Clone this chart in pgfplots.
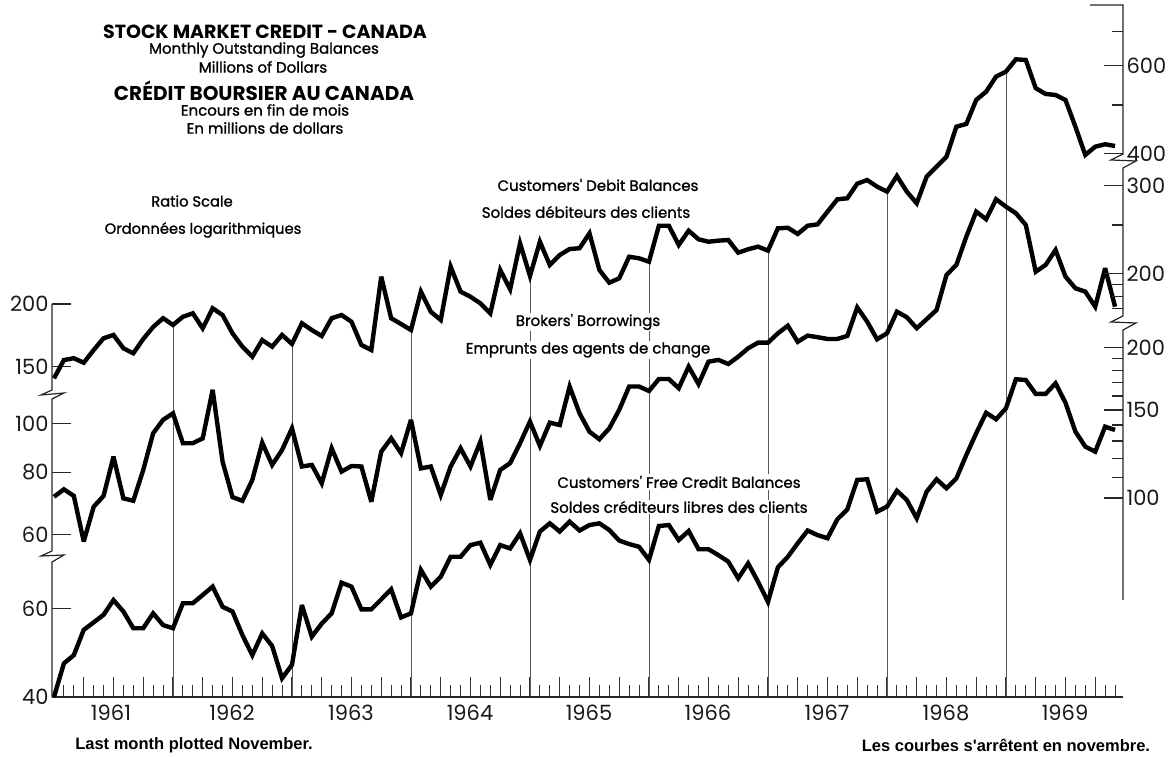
\documentclass[border=0pt]{standalone}
\usepackage{fontspec}
\setmainfont{Poppins}
\newfontfamily\medfont{Poppins}[FakeBold=1.2]
\newfontfamily\helv{Liberation Sans}
\usepackage{pgfplots}
\usepackage{pgfplotstable}
\pgfplotsset{compat=1.18}

\pgfplotsset{
  ccone/.style={scale only axis, width=1071pt, height=692pt, at={(52pt,59pt)},
    anchor=south west, xmin=-0.2, xmax=107.8, clip=false, ymin=32.74, ymax=792.6},
  cctwo/.style={scale only axis, width=1071pt, height=692pt, at={(52pt,59pt)},
    anchor=south west, xmin=-0.2, xmax=107.8, clip=false, ymin=28.44, ymax=688.5},
  ccthree/.style={scale only axis, width=1071pt, height=692pt, at={(52pt,59pt)},
    anchor=south west, xmin=-0.2, xmax=107.8, clip=false, ymin=40, ymax=968.4},
  cccurve/.style={black, line width=4.4pt, line join=miter, miter limit=4, mark=none},
  cclt/.style={axis x line=none, y axis line style={draw=none}, tick align=inside,
    major tick length=19pt, minor tick length=11pt, minor y tick num=0,
    tick style={black!85, line width=1.1pt},
    yticklabel style={font=\fontsize{21}{21}\selectfont, text=black!90},
    axis y line*=left},
  ccrt/.style={axis x line=none, y axis line style={draw=none}, tick align=inside,
    major tick length=19pt, minor tick length=11pt, minor y tick num=0,
    tick style={black!85, line width=1.1pt},
    yticklabel style={font=\fontsize{21}{21}\selectfont, text=black!90},
    axis y line*=right},
}

% Customers' Debit Balances (Dec 1960 = 0 ... Nov 1969 = 107)
\pgfplotstableread{
k v
0 142.0
1 154.5
2 155.8
3 152.6
4 161.8
5 170.8
6 173.4
7 163.1
8 159.4
9 170.2
10 179.9
11 187.3
12 181.6
13 188.6
14 191.6
15 178.8
16 196.1
17 190.1
18 174.7
19 164.3
20 156.9
21 169.4
22 164.3
23 173.4
24 166.4
25 183.0
26 177.4
27 172.6
28 187.3
29 190.1
30 184.3
31 165.6
32 161.8
33 226.8
34 187.3
35 182.4
36 177.4
37 211.7
38 193.0
39 185.8
40 237.5
41 211.7
42 206.8
43 200.6
44 191.6
45 233.9
46 214.0
47 264.5
48 227.5
49 266.4
50 239.3
51 250.6
52 257.6
53 258.5
54 276.9
55 233.9
56 220.6
57 225.1
58 248.6
59 246.8
60 243.0
61 286.8
62 286.8
63 262.4
64 280.2
65 269.4
66 266.4
67 267.7
68 268.5
69 253.3
70 257.3
71 260.4
72 255.7
73 283.3
74 284.1
75 276.1
76 286.8
77 288.6
78 305.9
79 323.9
80 325.4
81 348.0
82 354.0
83 343.3
84 335.5
85 360.6
86 335.5
87 318.0
88 359.4
89 376.4
90 394.1
91 452.5
92 458.2
93 511.7
94 531.7
95 569.8
96 583.1
97 617.1
98 615.2
99 540.2
100 526.1
101 523.6
102 511.7
103 452.5
104 397.2
105 412.7
106 417.3
107 414.0
}\debit

% Brokers' Borrowings
\pgfplotstableread{
k v
0 71.5
1 74.0
2 71.8
3 58.2
4 68.3
5 71.8
6 86.0
7 71.0
8 70.2
9 80.9
10 95.8
11 101.9
12 105.0
13 91.5
14 91.5
15 93.6
16 117.0
17 84.1
18 71.4
19 70.2
20 77.3
21 91.7
22 82.8
23 88.7
24 98.0
25 82.2
26 82.8
27 76.1
28 89.4
29 80.3
30 82.4
31 82.2
32 69.9
33 88.0
34 93.6
35 87.4
36 101.9
37 81.5
38 82.2
39 72.1
40 82.2
41 89.4
42 82.2
43 92.2
44 70.5
45 80.9
46 83.5
47 91.5
48 101.1
49 90.4
50 100.6
51 99.5
52 118.8
53 105.0
54 96.5
55 93.2
56 98.0
57 106.7
58 118.8
59 118.8
60 116.4
61 123.0
62 123.0
63 117.9
64 130.2
65 120.2
66 133.2
67 134.3
68 131.8
69 136.3
70 141.7
71 145.4
72 145.4
73 151.8
74 157.2
75 146.0
76 150.2
77 149.1
78 147.9
79 147.9
80 150.0
81 171.0
82 160.2
83 147.7
84 151.8
85 167.7
86 163.5
87 155.4
88 162.0
89 169.0
90 198.6
91 208.0
92 236.9
93 265.8
94 256.7
95 281.4
96 272.0
97 263.9
98 250.0
99 201.6
100 208.0
101 222.8
102 197.1
103 186.8
104 183.9
105 171.6
106 204.8
107 171.6
}\brokers

% Customers' Free Credit Balances
\pgfplotstableread{
k v
0 40.0
1 46.7
2 48.5
3 54.5
4 56.4
5 58.4
6 62.5
7 59.3
8 54.9
9 54.9
10 58.8
11 55.7
12 54.9
13 61.6
14 61.6
15 64.0
16 66.5
17 60.6
18 59.3
19 53.2
20 48.5
21 53.6
22 50.6
23 43.6
24 46.4
25 61.1
26 52.8
27 56.1
28 58.8
29 67.7
30 66.5
31 59.9
32 59.9
33 62.7
34 65.7
35 57.7
36 58.8
37 71.8
38 66.5
39 69.6
40 76.3
41 76.3
42 80.5
43 81.4
44 73.5
45 80.5
46 79.3
47 85.0
48 75.2
49 85.7
50 89.0
51 85.7
52 89.7
53 86.1
54 88.3
55 89.0
56 86.3
57 82.2
58 80.9
59 79.9
60 75.2
61 87.9
62 88.3
63 82.4
64 85.9
65 79.0
66 79.0
67 76.9
68 74.6
69 69.1
70 74.0
71 68.0
72 62.0
73 72.7
74 76.3
75 81.2
76 86.1
77 84.3
78 83.1
79 90.7
80 94.9
81 108.7
82 109.0
83 93.9
84 96.1
85 103.4
86 99.1
87 91.1
88 103.0
89 109.0
90 104.6
91 109.5
92 121.9
93 134.8
94 148.1
95 143.7
96 151.2
97 172.8
98 172.2
99 161.5
100 161.5
101 169.6
102 155.1
103 135.8
104 126.7
105 123.8
106 138.9
107 136.8
}\freecredit

% year-end (December) debit values, where the year lines stop
\pgfplotstableread{
k v
12 181.6
24 166.4
36 177.4
48 227.5
60 243.0
72 255.7
84 335.5
96 583.1
}\yearend

\begin{document}
\begin{tikzpicture}[x=1pt,y=1pt]
\path[use as bounding box] (0,0) rectangle (1171,756);

% year-end vertical lines
\begin{axis}[ymode=log, ccone, hide axis, clip=true]
\addplot[ycomb, draw=black!65, line width=0.9pt, mark=none] table[x=k,y=v]{\yearend};
\end{axis}

% series labels (white box breaks the year lines)
\begin{scope}[every node/.style={fill=white, inner sep=1.5pt, font=\medfont\fontsize{15}{15}\selectfont}]
\node at (598,{756-185}) {Customers' Debit Balances};
\node at (586,{756-212}) {Soldes débiteurs des clients};
\node at (588,{756-322}) {Brokers' Borrowings};
\node at (588,{756-350}) {Emprunts des agents de change};
\node at (679,{756-482}) {Customers' Free Credit Balances};
\node at (679,{756-507}) {Soldes créditeurs libres des clients};
\end{scope}

% bottom monthly ticks
\begin{axis}[ymode=log, ccthree, axis y line=none, axis x line*=bottom,
  x axis line style={black!85, line width=1.3pt},
  tick align=inside, xtick={3,6,...,105}, minor xtick={1,2,...,107},
  major tick length=20pt, minor tick length=12pt, xticklabels={},
  tick style={black!80, line width=1.0pt}]
\end{axis}

% Customers' Debit Balances
\begin{axis}[ymode=log, ccone, cclt, ytick={150,200}, yticklabels={150,200}]
\addplot[cccurve] table[x=k,y=v]{\debit};
\end{axis}
\begin{axis}[ymode=log, ccone, ccrt, ytick={400,600}, yticklabels={400,600}, minor ytick={500,700}]
\end{axis}

% Brokers' Borrowings
\begin{axis}[ymode=log, cctwo, cclt, ytick={60,80,100}, yticklabels={60,80,100}]
\addplot[cccurve] table[x=k,y=v]{\brokers};
\end{axis}
\begin{axis}[ymode=log, cctwo, ccrt, ytick={200,300}, yticklabels={200,300}, minor ytick={170,180,190,250}]
\end{axis}

% Customers' Free Credit Balances
\begin{axis}[ymode=log, ccthree, cclt, ytick={40,60}, yticklabels={40,60}]
\addplot[cccurve] table[x=k,y=v]{\freecredit};
\end{axis}
\begin{axis}[ymode=log, ccthree, ccrt, ytick={100,150,200}, yticklabels={100,150,200},
  minor ytick={110,120,130,140,160,170,180,190}]
\end{axis}

% broken vertical axis lines
\begin{scope}[black!85, line width=1.2pt, line join=miter]
\draw (52,{756-304}) -- (52,{756-390}) -- (41,{756-395}) -- (64,{756-393}) -- (52,{756-399}) -- (52,{756-551});
\draw (52,{756-551}) -- (41,{756-556}) -- (64,{756-555}) -- (52,{756-562}) -- (52,{756-697});
\draw (1090,{756-5}) -- (1123,{756-5}) -- (1123,{756-154}) -- (1111,{756-160}) -- (1136,{756-161}) -- (1123,{756-168}) -- (1123,{756-316});
\draw (1123,{756-316}) -- (1111,{756-322}) -- (1136,{756-323}) -- (1123,{756-330}) -- (1123,{756-600});
\end{scope}

% year labels
\begin{scope}[every node/.style={font=\fontsize{21}{21}\selectfont, text=black!90}]
\node at (111,{756-713}) {1961};
\node at (232,{756-713}) {1962};
\node at (351,{756-713}) {1963};
\node at (470,{756-713}) {1964};
\node at (589,{756-713}) {1965};
\node at (708,{756-713}) {1966};
\node at (827,{756-713}) {1967};
\node at (946,{756-713}) {1968};
\node at (1065,{756-713}) {1969};
\end{scope}

% title block
\node[font=\fontsize{19}{19}\selectfont\bfseries] at (265,{756-32}) {STOCK MARKET CREDIT - CANADA};
\node[font=\medfont\fontsize{15}{15}\selectfont] at (264,{756-50}) {Monthly Outstanding Balances};
\node[font=\medfont\fontsize{15}{15}\selectfont] at (263,{756-67}) {Millions of Dollars};
\node[font=\fontsize{20}{20}\selectfont\bfseries] at (264,{756-91}) {CRÉDIT BOURSIER AU CANADA};
\node[font=\medfont\fontsize{15}{15}\selectfont] at (265,{756-110}) {Encours en fin de mois};
\node[font=\medfont\fontsize{15}{15}\selectfont] at (265,{756-128}) {En millions de dollars};
\node[font=\medfont\fontsize{14.7}{14.7}\selectfont] at (192,{756-201}) {Ratio Scale};
\node[font=\medfont\fontsize{14.7}{14.7}\selectfont] at (203,{756-230}) {Ordonnées logarithmiques};

% footnotes
\node[font=\helv\bfseries\fontsize{16.5}{16.5}\selectfont] at (194,{756-745}) {Last month plotted November.};
\node[font=\helv\bfseries\fontsize{16.5}{16.5}\selectfont] at (1006,{756-745}) {Les courbes s'arrêtent en novembre.};
\end{tikzpicture}
\end{document}
